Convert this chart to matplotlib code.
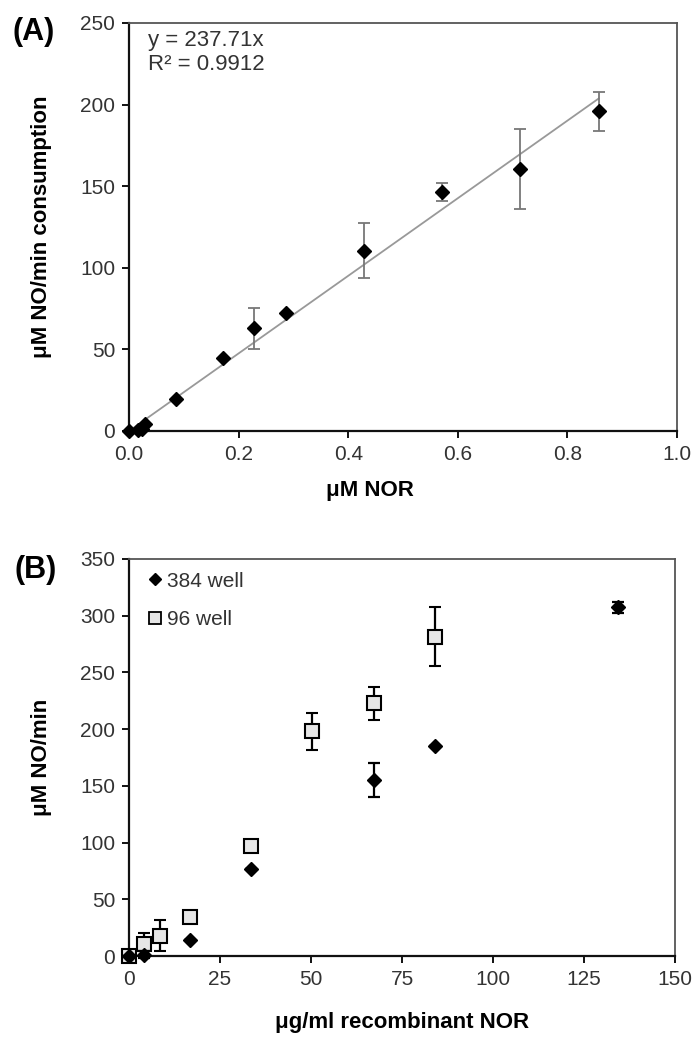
import matplotlib
matplotlib.use("Agg")
import matplotlib.pyplot as plt
from matplotlib.lines import Line2D
import numpy as np

plt.rcParams['font.family'] = ['Liberation Sans', 'DejaVu Sans']

# ---- Panel A data ----
a_x = [0.0, 0.017, 0.023, 0.029, 0.086, 0.171, 0.229, 0.286, 0.429, 0.571, 0.714, 0.857]
a_y = [0.0, 0.5, 1.0, 4.5, 19.5, 44.5, 63.0, 72.0, 110.5, 146.3, 160.5, 196.0]
a_err = [0, 0, 0, 0, 0, 0, 12.5, 0, 17.0, 5.5, 24.6, 12.0]
fit_slope = 237.71
fit_x = [0.0, 0.857]
a_xticks = [0.0, 0.2, 0.4, 0.6, 0.8, 1.0]
a_yticks = [0, 50, 100, 150, 200, 250]

# ---- Panel B data ----
b384_x = [0.0, 4.2, 16.8, 33.6, 67.2, 84.0, 134.4]
b384_y = [0.0, 1.0, 14.0, 76.5, 155.5, 185.5, 307.5]
b384_err = [0, 3.0, 0, 0, 15.0, 0, 5.0]
b96_x = [0.0, 4.2, 8.4, 16.8, 33.6, 50.4, 67.2, 84.0]
b96_y = [0.0, 10.5, 18.0, 34.7, 97.3, 198.0, 223.0, 281.6]
b96_err = [0, 10.0, 13.5, 4.0, 0, 16.0, 14.5, 26.0]
b_xticks = [0, 25, 50, 75, 100, 125, 150]
b_yticks = [0, 50, 100, 150, 200, 250, 300, 350]

fig = plt.figure(figsize=(6.95, 10.37), dpi=100)

TICK_COLOR = '#333333'
TICK_FS = 15
LABEL_FS = 16


def style_axes(ax):
    for s in ['left', 'bottom']:
        ax.spines[s].set_color('#111111')
        ax.spines[s].set_linewidth(1.6)
    for s in ['top', 'right']:
        ax.spines[s].set_color('#555555')
        ax.spines[s].set_linewidth(1.3)
    ax.tick_params(axis='both', direction='out', length=5, width=1.4,
                   labelsize=TICK_FS, labelcolor=TICK_COLOR, color='#111111', pad=5)


# Panel A
axA = fig.add_axes([129/695, 1-431/1037, (677-129)/695, (431-23)/1037])
fx = np.array(fit_x)
axA.plot(fx, fit_slope*fx, color='#999999', lw=1.3, zorder=2)
axA.errorbar(a_x, a_y, yerr=a_err, fmt='D', color='black', ms=7.5,
             ecolor='#777777', elinewidth=1.3, capsize=4, capthick=1.3, zorder=3,
             clip_on=False)
axA.set_xlim(0, 1.0)
axA.set_ylim(0, 250)
axA.set_xticks(a_xticks)
axA.set_xticklabels([f"{t:.1f}" for t in a_xticks])
axA.set_yticks(a_yticks)
style_axes(axA)
axA.set_xlabel('μM NOR', fontsize=LABEL_FS, fontweight='bold')
axA.set_ylabel('μM NO/min consumption', fontsize=LABEL_FS, fontweight='bold')
axA.xaxis.set_label_coords(0.44, -0.120)
axA.yaxis.set_label_coords(-0.1405, 0.5)
axA.text(0.035, 0.982, 'y = 237.71x\nR² = 0.9912', transform=axA.transAxes,
         fontsize=16, color='#333333', va='top', ha='left', linespacing=1.15)
fig.text(12/695, 1-32/1037, '(A)', fontsize=22, fontweight='bold', va='center', ha='left')

# Panel B
axB = fig.add_axes([129/695, 1-956/1037, (675-129)/695, (956-559)/1037])
axB.errorbar(b96_x, b96_y, yerr=b96_err, fmt='s', color='black', ms=9.5,
             mfc='#e6e6e6', mec='black', mew=1.5, ecolor='black', elinewidth=1.6,
             capsize=4.5, capthick=1.6, zorder=3, clip_on=False)
axB.errorbar(b384_x, b384_y, yerr=b384_err, fmt='D', color='black', ms=7,
             ecolor='black', elinewidth=1.6, capsize=4.5, capthick=1.6, zorder=4,
             clip_on=False)
axB.set_xlim(0, 150)
axB.set_ylim(0, 350)
axB.set_xticks(b_xticks)
axB.set_yticks(b_yticks)
style_axes(axB)
axB.set_xlabel('μg/ml recombinant NOR', fontsize=LABEL_FS, fontweight='bold')
axB.set_ylabel('μM NO/min', fontsize=LABEL_FS, fontweight='bold')
axB.xaxis.set_label_coords(0.5, -0.141)
axB.yaxis.set_label_coords(-0.141, 0.5)
leg_handles = [Line2D([], [], marker='D', color='black', ls='none', ms=6.5),
               Line2D([], [], marker='s', mfc='#e6e6e6', mec='black', mew=1.3, ls='none', ms=8.5)]
axB.legend(leg_handles, ['384 well', '96 well'], loc='upper left', frameon=False,
           fontsize=15, handlelength=0.6, handletextpad=0.25, labelspacing=0.95,
           borderaxespad=0, borderpad=0,
           bbox_to_anchor=(0.037, 0.968), labelcolor='#333333')
fig.text(15/695, 1-570/1037, '(B)', fontsize=22, fontweight='bold', va='center', ha='left')

fig.savefig('out.png', dpi=100)
